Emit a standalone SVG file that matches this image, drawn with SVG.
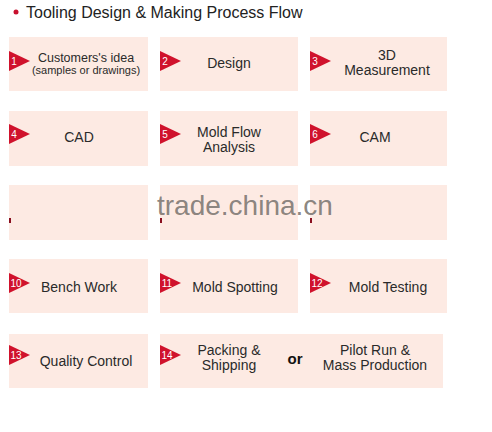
<svg xmlns="http://www.w3.org/2000/svg" width="492" height="432" viewBox="0 0 492 432">
<style>
.box{fill:#fdeae3}
.tri{fill:#d0122c}
.num{font-family:"Liberation Sans",Arial,sans-serif;font-size:10px;fill:#fff;text-anchor:middle}
.lbl{font-family:"Liberation Sans",Arial,sans-serif;font-size:14px;fill:#2a2a2a;text-anchor:middle}
.sm{font-size:11px}
.title{font-family:"Liberation Sans",Arial,sans-serif;font-size:16px;fill:#222}
</style>
<rect width="492" height="432" fill="#fff"/>
<g id="title">
<circle cx="16" cy="12" r="2.5" fill="#c8102e"/>
<text class="title" x="26" y="18">Tooling Design &amp; Making Process Flow</text>
</g>
<g id="connectors"></g>
<g id="n1"><rect class="box" x="9" y="37" width="139" height="54"/><polygon class="tri" points="9,51 30,61 9,71"/><text class="num" x="14" y="65">1</text><text class="lbl" x="86" y="62" style="font-size:12.5px">Customers's idea</text><text class="lbl sm" x="86" y="74">(samples or drawings)</text></g>
<g id="n2"><rect class="box" x="160" y="37" width="138" height="54"/><polygon class="tri" points="160,51 181,61 160,71"/><text class="num" x="165" y="65">2</text><text class="lbl" x="229" y="68">Design</text></g>
<g id="n3"><rect class="box" x="310" y="37" width="137" height="54"/><polygon class="tri" points="310,51 331,61 310,71"/><text class="num" x="315" y="65">3</text><text class="lbl" x="387" y="60">3D</text><text class="lbl" x="387" y="75">Measurement</text></g>
<g id="n4"><rect class="box" x="9" y="111" width="139" height="55"/><polygon class="tri" points="9,124 30,134 9,144"/><text class="num" x="14" y="138">4</text><text class="lbl" x="79" y="142">CAD</text></g>
<g id="n5"><rect class="box" x="160" y="111" width="138" height="55"/><polygon class="tri" points="160,124 181,134 160,144"/><text class="num" x="165" y="138">5</text><text class="lbl" x="229" y="137">Mold Flow</text><text class="lbl" x="229" y="152">Analysis</text></g>
<g id="n6"><rect class="box" x="310" y="111" width="137" height="55"/><polygon class="tri" points="310,124 331,134 310,144"/><text class="num" x="315" y="138">6</text><text class="lbl" x="375" y="142">CAM</text></g>
<g id="n7"><rect class="box" x="9" y="185" width="139" height="55"/><rect x="9" y="218" width="2" height="5" fill="#8a1020"/></g>
<g id="n8"><rect class="box" x="160" y="185" width="138" height="55"/><rect x="160" y="218" width="2" height="5" fill="#8a1020"/></g>
<g id="n9"><rect class="box" x="310" y="185" width="137" height="55"/><rect x="310" y="218" width="2" height="5" fill="#8a1020"/></g>
<g id="n10"><rect class="box" x="9" y="259" width="139" height="54"/><polygon class="tri" points="9,273 30,283 9,293"/><text class="num" x="16" y="287">10</text><text class="lbl" x="79" y="292">Bench Work</text></g>
<g id="n11"><rect class="box" x="160" y="259" width="138" height="54"/><polygon class="tri" points="160,273 181,283 160,293"/><text class="num" x="167" y="287">11</text><text class="lbl" x="235" y="292">Mold Spotting</text></g>
<g id="n12"><rect class="box" x="310" y="259" width="137" height="54"/><polygon class="tri" points="310,273 331,283 310,293"/><text class="num" x="317" y="287">12</text><text class="lbl" x="388" y="292">Mold Testing</text></g>
<g id="n13"><rect class="box" x="9" y="334" width="139" height="54"/><polygon class="tri" points="9,345 30,355 9,365"/><text class="num" x="16" y="359">13</text><text class="lbl" x="86" y="366">Quality Control</text></g>
<g id="n14"><rect class="box" x="160" y="334" width="283" height="54"/><polygon class="tri" points="160,345 181,355 160,365"/><text class="num" x="167" y="359">14</text><text class="lbl" x="229" y="355">Packing &amp;</text><text class="lbl" x="229" y="370">Shipping</text><text class="lbl" x="295" y="364" style="font-weight:bold;font-size:15px;fill:#111">or</text><text class="lbl" x="375" y="355">Pilot Run &amp;</text><text class="lbl" x="375" y="370">Mass Production</text></g>
<text x="157" y="215" style="font-family:'Liberation Sans',Arial,sans-serif;font-size:28px;fill:#7d7772;fill-opacity:0.9">trade.china.cn</text>
</svg>
